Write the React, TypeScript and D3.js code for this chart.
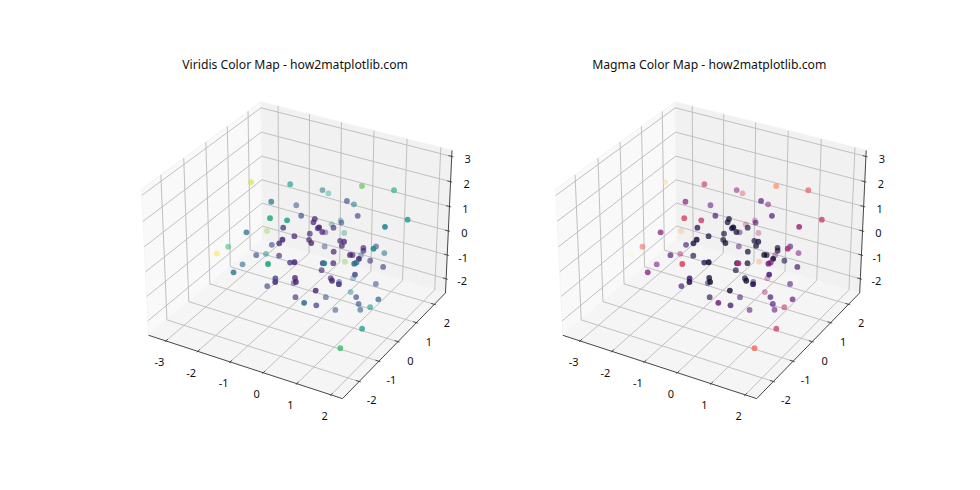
import * as d3 from 'd3';

const xs = [-2.55,-1.22,-1.13,-1.34,-0.64,-0.25,-0.76,-0.69,-1.49,-2.46,-0.58,-0.23,-0.48,-1.44,-2.65,-0.83,-1.25,0.81,1.38,0.19,0,0.54,2.23,2.13,-0.96,0.02,-1.15,-0.23,-0.24,0.5,0.09,0.06,0.02,-0.86,-0.78,-0.44,-0.42,0.04,-0.78,0.3,0.77,0.56,0.88,0.8,2.02,0.41,0.99,0.68,-0.04,0.9,1.04,0.94,1.46,1.58,1.55,1.51,-0.38,0.48,1.03,0.43,0.07,0.18,-0.31,1.41,-0.25,0.33,0.94,-0.01,1.3,1.05,-0.1,0.14,-1.07,0.64,-0.35,-0.03,0.15,1.04,1.74,0.65,0.37,0.28,1.14,1.04,1.25,1.74,1.74,-3.08,-1.53,-1.92,-1,-1.99,-1.31,0.01,-0.34,-0.32,-1.07];
const ys = [0.59,0.42,-0.63,0.91,-1.45,-1.27,0.22,-0.76,-1.25,1.2,-0.4,-1.52,-1.28,-0.14,-0.39,1.4,2.41,0.63,1.3,0.94,1.64,0.91,0.5,-0.5,2.59,0.96,2.43,0.03,-0.02,-0.96,-0.35,0.49,-0.01,1.62,2.49,0.13,0.06,-0.58,1.45,0.43,-0.17,0.08,0.64,1.46,-0.86,-0.08,-0.24,0.43,2.14,0.61,1.49,0.91,0.68,-0.81,-0.88,-0.92,1.86,-0.21,-1.58,-0.65,-0.11,-1.61,-1.04,-0.7,2.1,-0.08,-1.04,0.93,-1.31,1.05,-1.14,-1.48,0.34,-1.34,-0.72,0.28,1.28,0.03,-0.04,-1.91,-0.86,0.26,-0.01,0.26,0.41,-0.86,-1.95,-0.3,-0.75,0.31,-0.48,-0.71,-2.13,-2.56,-1.69,-1.73,-0.95];
const zs = [1.61,2.11,2.15,0.89,2.25,2.19,1.15,1.38,1.24,-0.79,0.83,1.62,1.21,-0.03,-0.39,1.36,0.4,2.62,2.21,1.6,0.92,1.15,1.91,2.29,-0.75,0.65,-0.88,1.35,1.25,1.98,1.36,0.79,0.95,-0.54,-1.15,0.61,0.42,0.92,-0.98,0.39,0.96,0.54,0.18,-0.38,1.66,0.36,0.57,-0.04,-1.56,0.09,-0.59,-0.52,-0.4,1.06,0.95,0.92,-1.77,0.02,1.23,0.32,-0.5,0.96,0.34,0.29,-2.6,-0.75,0.11,-1.79,0.32,-1.54,-0.12,0.07,-1.82,-0.18,-1.32,-1.95,-2.42,-1.32,-1.07,-0.23,-1.25,-2.34,-1.53,-2.02,-1.94,-1.63,-1.55,-0.91,-0.05,-0.91,-0.06,-0.63,0.36,1.52,0.18,0.07,-0.98];
const colorValues = [.93,.55,.42,.28,.6,.57,.22,.17,.38,.85,.1,.12,.14,.2,.68,.4,.6,.77,.66,.24,.4,.2,.55,.47,.5,.23,.5,.1,.1,.1,.15,.1,.08,.2,.5,.1,.08,.08,.2,.1,.1,.1,.1,.2,.47,.1,.07,.08,.38,.1,.36,.15,.22,.08,.42,.33,.82,.1,.45,.1,.12,.1,.17,.2,.45,.12,.08,.25,.14,.22,.08,.08,.2,.09,.15,.24,.45,.2,.32,.35,.17,.25,.25,.32,.55,.55,.7,1,.24,.5,.12,.35,.4,.62,.2,.08,.22];

const xTicks = [-3, -2, -1, 0, 1, 2];
const yTicks = [-2, -1, 0, 1, 2];
const zTicks = [-2, -1, 0, 1, 2, 3];
const xLim: [number, number] = [-3.55, 2.33];
const yLim: [number, number] = [-2.82, 2.64];
const zLim: [number, number] = [-2.6, 3.24];

type V3 = [number, number, number];

// same view as matplotlib: elev 30, azim -60, dist 10, box aspect 4:4:3
const boxW = 1.1905;
const boxH = 0.8929;
const U: V3 = [0.866, 0.5, 0];
const V: V3 = [-0.25, 0.433, 0.866];
const W: V3 = [0.433, -0.75, 0.5];

const bx = d3.scaleLinear().domain(xLim).range([-boxW / 2, boxW / 2]);
const by = d3.scaleLinear().domain(yLim).range([-boxW / 2, boxW / 2]);
const bz = d3.scaleLinear().domain(zLim).range([-boxH / 2, boxH / 2]);
const dot = (a: V3, b: V3) => a[0] * b[0] + a[1] * b[1] + a[2] * b[2];

const depthOf = (p: V3) => dot([bx(p[0]), by(p[1]), bz(p[2])], W);
const depths = xs.map((x, i) => depthOf([x, ys[i], zs[i]]));
const alpha = d3.scaleLinear().domain(d3.extent(depths) as [number, number]).range([0.37, 0.95]);
const order = d3.range(xs.length).sort((a, b) => depths[a] - depths[b]);

const AXW = 345.2;
const TOP = 75.2;

function Panel({ left, title, ramp }: { left: number; title: string; ramp: (t: number) => string }) {
  const sx = d3.scaleLinear().domain([-0.095, 0.09]).range([left, left + AXW]);
  const sy = d3.scaleLinear().domain([-0.095, 0.09]).range([TOP + AXW, TOP]);
  const project = (p: V3): [number, number] => {
    const q: V3 = [bx(p[0]), by(p[1]), bz(p[2])];
    const d = 10 - dot(q, W);
    return [sx(dot(q, U) / d), sy(dot(q, V) / d)];
  };
  const line = d3.line<V3>().x((p) => project(p)[0]).y((p) => project(p)[1]);
  const [x0, x1] = xLim;
  const [y0, y1] = yLim;
  const [z0, z1] = zLim;
  const color = d3.scaleSequential(ramp).domain([0, 1]);
  const tx = (x1 - x0) / 12;
  const ty = (y1 - y0) / 12;

  return (
    <g>
      <path d={line([[x0, y0, z0], [x0, y1, z0], [x0, y1, z1], [x0, y0, z1]])! + 'Z'} fill="#f9f9f9" stroke="#f4f4f4" />
      <path d={line([[x0, y1, z0], [x1, y1, z0], [x1, y1, z1], [x0, y1, z1]])! + 'Z'} fill="#f1f1f1" stroke="#f4f4f4" />
      <path d={line([[x0, y0, z0], [x1, y0, z0], [x1, y1, z0], [x0, y1, z0]])! + 'Z'} fill="#f5f5f5" stroke="#f4f4f4" />

      <g fill="none" stroke="#c0c0c0" strokeWidth={1}>
        {xTicks.map((t) => (
          <path key={t} d={line([[t, y0, z0], [t, y1, z0], [t, y1, z1]])!} />
        ))}
        {yTicks.map((t) => (
          <path key={t} d={line([[x1, t, z0], [x0, t, z0], [x0, t, z1]])!} />
        ))}
        {zTicks.map((t) => (
          <path key={t} d={line([[x0, y0, t], [x0, y1, t], [x1, y1, t]])!} />
        ))}
      </g>

      <path d={line([[x0, y0, z0], [x1, y0, z0], [x1, y1, z0], [x1, y1, z1]])!} fill="none" stroke="#333" strokeWidth={0.9} />
      <g fill="none" stroke="#333" strokeWidth={0.8}>
        {xTicks.map((t) => (
          <path key={t} d={line([[t, y0 - 0.1 * ty, z0], [t, y0 + 0.2 * ty, z0]])!} />
        ))}
        {yTicks.map((t) => (
          <path key={t} d={line([[x1 + 0.1 * tx, t, z0], [x1 - 0.2 * tx, t, z0]])!} />
        ))}
        {zTicks.map((t) => (
          <path key={t} d={line([[x1 + 0.1 * tx, y1, t], [x1 - 0.2 * tx, y1, t]])!} />
        ))}
      </g>

      <g fontSize={11} fill="#111" textAnchor="middle" dominantBaseline="central">
        {xTicks.map((t) => {
          const [a, b] = project([t, y0, z0]);
          return <text key={t} x={a - 6.5} y={b + 21}>{t}</text>;
        })}
        {yTicks.map((t) => {
          const [a, b] = project([x1, t, z0]);
          return <text key={t} x={a + 12.5} y={b + 18.5}>{t}</text>;
        })}
        {zTicks.map((t) => {
          const [a, b] = project([x1, y1, t]);
          return <text key={t} x={a + 16} y={b + 2}>{t}</text>;
        })}
      </g>

      {order.map((i) => {
        const [a, b] = project([xs[i], ys[i], zs[i]]);
        return <circle key={i} cx={a} cy={b} r={2.9} fill={color(colorValues[i])} fillOpacity={alpha(depths[i])} />;
      })}

      <text x={left + AXW / 2} y={64} fontSize={12.2} fill="#111" textAnchor="middle" dominantBaseline="central">{title}</text>
    </g>
  );
}

export default function App() {
  return (
    <svg width={980} height={490} style={{ position: 'absolute', left: 0, top: 0, fontFamily: '"Noto Sans", sans-serif' }}>
      <rect width={980} height={490} fill="#fff" />
      <Panel left={122.5} title="Viridis Color Map - how2matplotlib.com" ramp={d3.interpolateViridis} />
      <Panel left={536.7} title="Magma Color Map - how2matplotlib.com" ramp={d3.interpolateMagma} />
    </svg>
  );
}
